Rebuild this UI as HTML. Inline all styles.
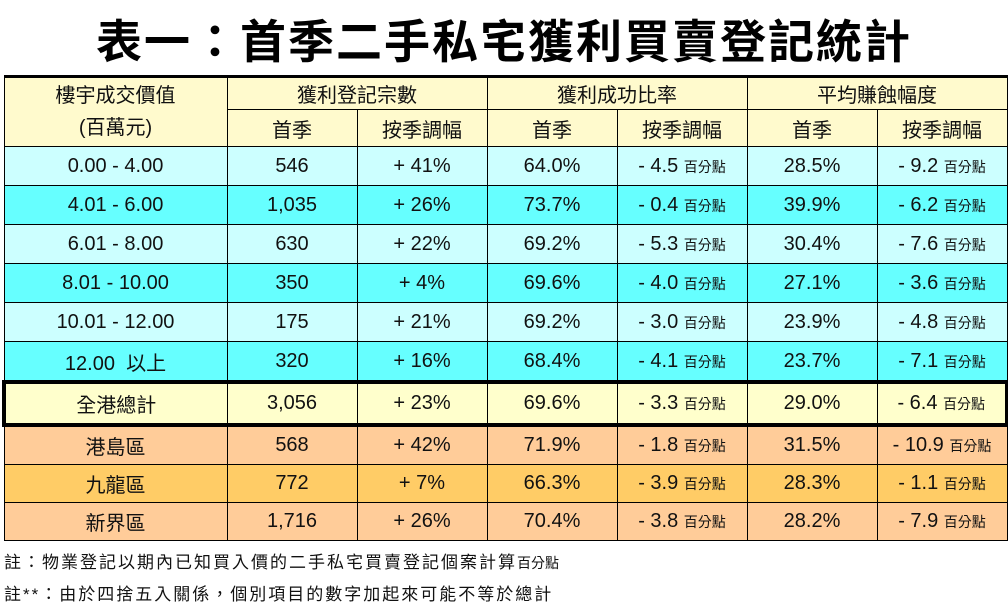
<!DOCTYPE html>
<html><head><meta charset="utf-8"><style>
body{margin:0;width:1008px;height:609px;background:#fff;overflow:hidden;font-family:"Liberation Sans","Noto Sans CJK TC",sans-serif;position:relative}
h1{position:absolute;top:6px;left:0;width:1008px;text-align:center;margin:0;font-size:46px;font-weight:bold;font-family:"Liberation Sans","Noto Sans CJK TC",sans-serif;letter-spacing:2px}
table{position:absolute;left:2px;top:75px;border-collapse:collapse;table-layout:fixed;width:1003px}
td{border:1px solid #000;text-align:center;font-size:20px;padding:0;color:#111}
.h td{background:#FFFACD;height:31px}
.h2 td{height:36px}
.c1 td{background:#CCFFFF;height:38px}
.c2 td{background:#66FFFF;height:38px}
.t td{background:#FFFFCC;height:39px;border-top:4px solid #000;border-bottom:4px solid #000}
.t td:first-child{border-left:4px solid #000}
.t td:last-child{border-right:4px solid #000}
.o1 td{background:#FFCC99;height:37px}
.o2 td{background:#FFCC66;height:37px}
small{font-size:14px}
.top td{border-top:3px solid #000}
.n{position:absolute;left:4px;font-size:17px;color:#111;letter-spacing:2px}
</style></head><body>
<h1>表一：首季二手私宅獲利買賣登記統計</h1>
<table>
<colgroup><col style="width:223px"><col style="width:130px"><col style="width:130px"><col style="width:130px"><col style="width:130px"><col style="width:130px"><col style="width:130px"></colgroup>
<tr class="h top"><td rowspan="2" style="line-height:32px">樓宇成交價值<br>(百萬元)</td><td colspan="2">獲利登記宗數</td><td colspan="2">獲利成功比率</td><td colspan="2">平均賺蝕幅度</td></tr>
<tr class="h h2"><td>首季</td><td>按季調幅</td><td>首季</td><td>按季調幅</td><td>首季</td><td>按季調幅</td></tr>
<tr class="c1"><td>0.00 - 4.00</td><td>546</td><td>+ 41%</td><td>64.0%</td><td>- 4.5 <small>百分點</small></td><td>28.5%</td><td>- 9.2 <small>百分點</small></td></tr>
<tr class="c2"><td>4.01 - 6.00</td><td>1,035</td><td>+ 26%</td><td>73.7%</td><td>- 0.4 <small>百分點</small></td><td>39.9%</td><td>- 6.2 <small>百分點</small></td></tr>
<tr class="c1"><td>6.01 - 8.00</td><td>630</td><td>+ 22%</td><td>69.2%</td><td>- 5.3 <small>百分點</small></td><td>30.4%</td><td>- 7.6 <small>百分點</small></td></tr>
<tr class="c2"><td>8.01 - 10.00</td><td>350</td><td>+ 4%</td><td>69.6%</td><td>- 4.0 <small>百分點</small></td><td>27.1%</td><td>- 3.6 <small>百分點</small></td></tr>
<tr class="c1"><td>10.01 - 12.00</td><td>175</td><td>+ 21%</td><td>69.2%</td><td>- 3.0 <small>百分點</small></td><td>23.9%</td><td>- 4.8 <small>百分點</small></td></tr>
<tr class="c2"><td>12.00&nbsp; 以上</td><td>320</td><td>+ 16%</td><td>68.4%</td><td>- 4.1 <small>百分點</small></td><td>23.7%</td><td>- 7.1 <small>百分點</small></td></tr>
<tr class="t"><td>全港總計</td><td>3,056</td><td>+ 23%</td><td>69.6%</td><td>- 3.3 <small>百分點</small></td><td>29.0%</td><td>- 6.4 <small>百分點</small></td></tr>
<tr class="o1"><td>港島區</td><td>568</td><td>+ 42%</td><td>71.9%</td><td>- 1.8 <small>百分點</small></td><td>31.5%</td><td>- 10.9 <small>百分點</small></td></tr>
<tr class="o2"><td>九龍區</td><td>772</td><td>+ 7%</td><td>66.3%</td><td>- 3.9 <small>百分點</small></td><td>28.3%</td><td>- 1.1 <small>百分點</small></td></tr>
<tr class="o1"><td>新界區</td><td>1,716</td><td>+ 26%</td><td>70.4%</td><td>- 3.8 <small>百分點</small></td><td>28.2%</td><td>- 7.9 <small>百分點</small></td></tr>
</table>
<div class="n" style="top:548px">註：物業登記以期內已知買入價的二手私宅買賣登記個案計算<small style="letter-spacing:0">百分點</small></div>
<div class="n" style="top:580px">註**：由於四捨五入關係，個別項目的數字加起來可能不等於總計</div>
</body></html>
